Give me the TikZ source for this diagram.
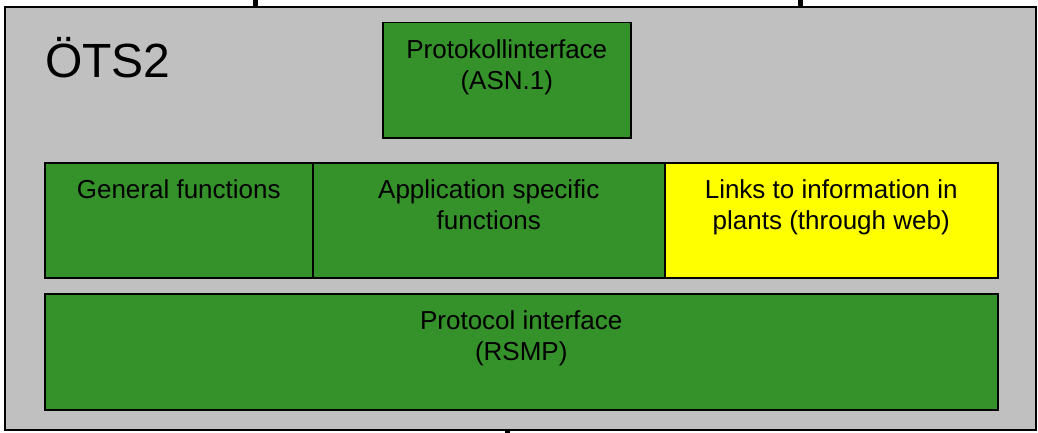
\documentclass[tikz,border=0pt]{standalone}
\usepackage{fontspec}
\setmainfont{Liberation Sans}
\definecolor{framegray}{RGB}{192,192,192}
\definecolor{modgreen}{RGB}{53,146,42}
\definecolor{modyellow}{RGB}{255,255,0}
\begin{document}
\begin{tikzpicture}[x=1pt,y=-1pt,
  frame/.style={draw=black, line width=1.6pt, fill=framegray, rectangle,
    inner sep=0pt, anchor=north west},
  module/.style={draw=black, line width=1.5pt, fill=modgreen, rectangle,
    inner sep=0pt, anchor=north west},
  webmodule/.style={module, fill=modyellow},
  label/.style={font=\fontsize{26}{31}\selectfont, align=center,
    inner sep=0pt, anchor=north},
  title/.style={font=\fontsize{48}{56}\selectfont, inner sep=0pt,
    anchor=base west},
  link/.style={draw=black, line width=4.5pt}]

\useasboundingbox (0,0) rectangle (1038,433);

% outer system frame
\node[frame, minimum width=1031, minimum height=423] (sys) at (4,6) {};
\node[title] (systitle) at (45,78) {ÖTS2};

% upper protocol interface
\node[module, minimum width=248, minimum height=115] (asn) at (382,22) {};
\node[label] (asntxt) at ([yshift=-17pt]asn.north) {Protokollinterface\\(ASN.1)};

% function modules
\node[module, minimum width=268, minimum height=115] (general) at (44,162) {};
\node[module, minimum width=352, minimum height=115] (appspec) at (312,162) {};
\node[webmodule, minimum width=333, minimum height=115] (links) at (664,162) {};
\node[label] (generaltxt) at ([yshift=-17pt]general.north) {General functions};
\node[label] (appspectxt) at ([yshift=-17pt]appspec.north) {Application specific\\functions};
\node[label] (linkstxt) at ([yshift=-17pt]links.north) {Links to information in\\plants (through web)};

% lower protocol interface
\node[module, minimum width=953, minimum height=116] (rsmp) at (44,293) {};
\node[label] (rsmptxt) at ([yshift=-17pt]rsmp.north) {Protocol interface\\(RSMP)};

% connections leaving the frame
\coordinate (upleft) at (255.5,0);
\coordinate (upright) at (800.5,0);
\coordinate (down) at (507.5,433);
\draw[link] (upleft) -- (upleft |- sys.north);
\draw[link] (upright) -- (upright |- sys.north);
\draw[link] (sys.south -| down) -- (down);
\end{tikzpicture}
\end{document}
